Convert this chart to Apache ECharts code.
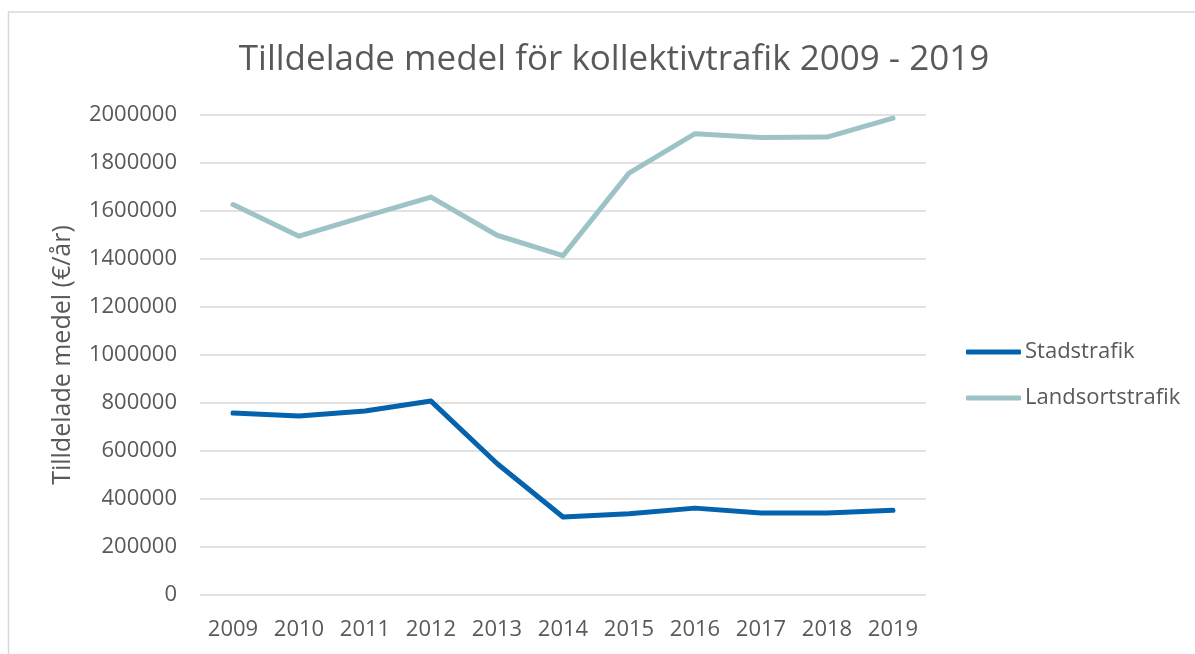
<!DOCTYPE html>
<html>
<head>
<meta charset="utf-8">
<title>Tilldelade medel för kollektivtrafik</title>
<script src="https://cdn.jsdelivr.net/npm/echarts@6/dist/echarts.min.js"></script>
<style>
  html, body { margin: 0; padding: 0; background: #fff; }
  #chart { width: 1195px; height: 654px; }
</style>
</head>
<body>
<div id="chart"></div>
<script>
// år på x-axeln
const years = ['2009', '2010', '2011', '2012', '2013', '2014', '2015', '2016', '2017', '2018', '2019'];
// (€/år)
const stadstrafik = [758000, 746000, 767000, 808000, 548000, 325000, 339000, 362000, 342000, 342000, 353000];
const landsortstrafik = [1627000, 1495000, 1578000, 1658000, 1499000, 1414000, 1758000, 1922000, 1906000, 1908000, 1987000];

const textColor = '#595959';
const fontFamily = '"Open Sans", "Noto Sans", sans-serif';

const chart = echarts.init(document.getElementById('chart'));

chart.setOption({
  animation: false,
  textStyle: { fontFamily: fontFamily },
  graphic: [
    {
      type: 'rect',
      shape: { x: 8.5, y: 12, width: 1200, height: 700 },
      style: { fill: 'none', stroke: '#d9d9d9', lineWidth: 1.5 },
      silent: true
    }
  ],
  title: {
    text: 'Tilldelade medel för kollektivtrafik 2009 - 2019',
    left: 609,
    textAlign: 'center',
    top: 38,
    textStyle: {
      color: textColor,
      fontSize: 35,
      fontWeight: 'normal',
      fontFamily: fontFamily
    }
  },
  legend: {
    orient: 'vertical',
    left: 966,
    top: 341,
    padding: 0,
    itemGap: 24,
    itemWidth: 55,
    itemHeight: 5,
    icon: 'roundRect',
    textStyle: { color: textColor, fontSize: 22, padding: [0, 0, 0, -1] },
    data: ['Stadstrafik', 'Landsortstrafik']
  },
  grid: {
    left: 200,
    right: 269,
    top: 115,
    bottom: 59,
    containLabel: false
  },
  xAxis: {
    type: 'category',
    data: years,
    boundaryGap: true,
    axisLine: { show: false },
    axisTick: { show: false },
    axisLabel: { color: textColor, fontSize: 22, margin: 24, interval: 0 }
  },
  yAxis: {
    type: 'value',
    min: 0,
    max: 2000000,
    interval: 200000,
    name: 'Tilldelade medel (€/år)',
    nameLocation: 'middle',
    nameGap: 125,
    nameTextStyle: { color: textColor, fontSize: 25 },
    axisLine: { show: false },
    axisTick: { show: false },
    axisLabel: {
      color: textColor,
      fontSize: 22,
      margin: 23,
      formatter: (value) => String(value)
    },
    splitLine: { lineStyle: { color: '#d9d9d9', width: 1.5 } }
  },
  series: [
    {
      name: 'Stadstrafik',
      type: 'line',
      data: stadstrafik,
      symbol: 'none',
      lineStyle: { color: '#0563ad', width: 5, cap: 'round', join: 'round' },
      itemStyle: { color: '#0563ad' }
    },
    {
      name: 'Landsortstrafik',
      type: 'line',
      data: landsortstrafik,
      symbol: 'none',
      lineStyle: { color: '#9dc3c6', width: 5, cap: 'round', join: 'round' },
      itemStyle: { color: '#9dc3c6' }
    }
  ]
});

window.addEventListener('resize', () => {
  chart.resize();
});
</script>
</body>
</html>
